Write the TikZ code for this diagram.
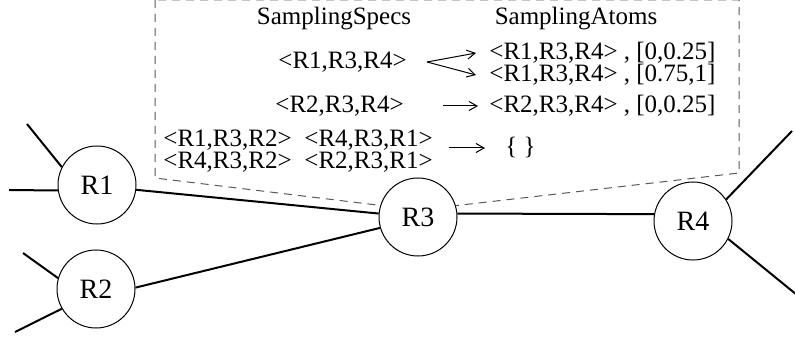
\documentclass[tikz,border=0pt]{standalone}
\usepackage{fontspec}
\setmainfont{Liberation Serif}
\usetikzlibrary{arrows.meta}

\begin{document}
\begin{tikzpicture}[x=0.5pt,y=-0.5pt,
  router/.style={circle,draw,line width=0.5pt,fill=white,minimum size=39pt,
    inner sep=0pt,font=\fontsize{14}{16}\selectfont},
  link/.style={line width=1.0pt},
  flow/.style={line width=0.5pt,-{Straight Barb[length=4pt,width=4.5pt]}},
  txt/.style={inner sep=0pt,anchor=west,font=\fontsize{12.5}{15}\selectfont},
  scopebox/.style={line width=0.5pt,black!65,dash pattern=on 4pt off 3pt}]

\useasboundingbox (0,0) rectangle (795,341);

% sampling region round R3
\draw[scopebox] (155,0) -- (155,178) -- (418,210) -- (739,173) -- (739,0) -- cycle;

\node[txt,anchor=center] (specs) at (334,19) {SamplingSpecs};
\node[txt,anchor=center] (atoms) at (576,19) {SamplingAtoms};

\node[txt] (spec1) at (278,62) {<R1,R3,R4>};
\node[txt] (atom1) at (489,53) {<R1,R3,R4> , [0,0.25]};
\node[txt] (atom2) at (489,75) {<R1,R3,R4> , [0.75,1]};

\node[txt] (spec2) at (275,106) {<R2,R3,R4>};
\node[txt] (atom3) at (489,106) {<R2,R3,R4> , [0,0.25]};

\node[txt] (rej1) at (163,140) {<R1,R3,R2>};
\node[txt] (rej2) at (304,140) {<R4,R3,R1>};
\node[txt] (rej3) at (163,162) {<R4,R3,R2>};
\node[txt] (rej4) at (304,162) {<R2,R3,R1>};
\node[txt] (empty) at (505,148) {\{ \}};

\coordinate (fork) at ([xshift=10pt]spec1.east);
\draw[flow] (fork) -- ([xshift=-6.5pt]atom1.west);
\draw[flow] (fork) -- ([xshift=-6.5pt]atom2.west);
\draw[flow] ([xshift=19.5pt]spec2.east) -- ([xshift=-5.5pt]atom3.west);
\path (rej2.east |- empty.west) coordinate (drop);
\draw[flow] ([xshift=8pt]drop) -- ([xshift=-10pt]empty.west);

% routers
\node[router] (R1) at (97,185) {R1};
\node[router] (R2) at (96,289) {R2};
\node[router] (R3) at (418,217) {R3};
\node[router] (R4) at (693,221) {R4};

\draw[link] (R1.353) -- (R3.175);
\draw[link] (R2.2) -- (R3.196);
\draw[link] (R3.5) -- (R4.170);

% loose ends
\coordinate (r1a) at (27,124);
\coordinate (r1b) at (9,190);
\coordinate (r2a) at (23,253);
\coordinate (r2b) at (15,332);
\coordinate (r4a) at (792,131);
\coordinate (r4b) at (797,295);
\draw[link] (R1.153) -- (r1a);
\draw[link] (R1.188) -- (r1b);
\draw[link] (R2.164) -- (r2a);
\draw[link] (R2.210) -- (r2b);
\draw[link] (R4.33) -- (r4a);
\draw[link] (R4.-27) -- (r4b);

\end{tikzpicture}
\end{document}
